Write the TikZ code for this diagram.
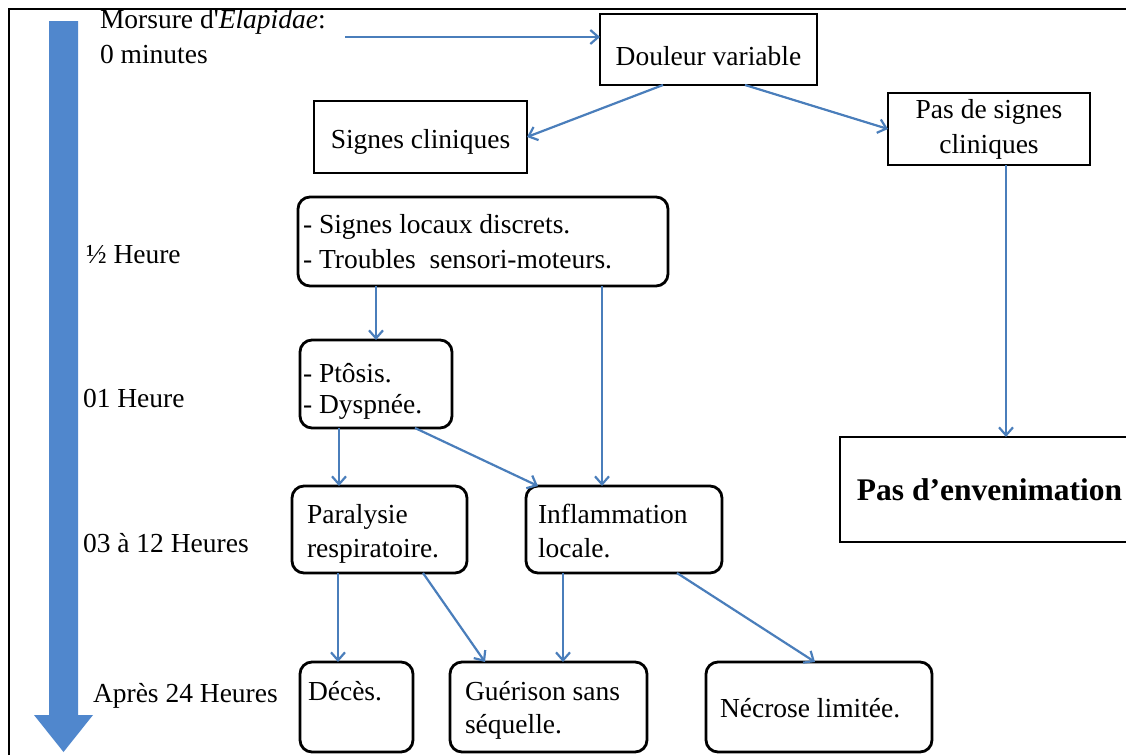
\documentclass[tikz,border=0pt]{standalone}
\usepackage{fontspec}
\setmainfont{Liberation Serif}
\usetikzlibrary{arrows.meta,calc}
\definecolor{conncol}{RGB}{74,126,187}
\definecolor{bigblue}{RGB}{80,135,205}
\begin{document}
\begin{tikzpicture}[x=1pt,y=-1pt,
  font=\fontsize{27.5}{35}\selectfont,
  sqbox/.style={draw=black, line width=2.8pt, inner sep=0pt, outer sep=0pt, align=center},
  rbox/.style={sqbox, rounded corners=12pt},
  txt/.style={anchor=base west, inner sep=0pt, outer sep=0pt},
  conn/.style={draw=conncol, line width=2.2pt, -{Straight Barb[length=8pt,width=14pt]}}
]
\useasboundingbox (0,0) rectangle (1126,755);
\fill[white] (0,0) rectangle (1126,755);

% frame
\draw[line width=2pt] (9,755) -- (9,9) -- (1126,9);

% time arrow
\fill[bigblue] (49,21) -- (78,21) -- (78,715) -- (93,715) -- (63.5,752) -- (34,715) -- (49,715) -- cycle;

% time labels
\node[txt] (morsure) at (100,28) {Morsure d\textquotesingle\textit{Elapidae}:};
\node[txt] (zero) at (100,63) {0 minutes};
\node[txt] (half) at (86,263) {½ Heure};
\node[txt] (one) at (83,407) {01 Heure};
\node[txt] (three) at (83,552) {03 à 12 Heures};
\node[txt] (after) at (93,702) {Après 24 Heures};

% boxes
\node[sqbox, minimum width=217pt, minimum height=71pt, text height=31pt, text depth=0pt] (douleur) at (708.5,49.5) {Douleur variable};
\node[sqbox, minimum width=213pt, minimum height=72pt, text height=22pt, text depth=0pt] (signes) at (420.5,137) {Signes cliniques};
\node[sqbox, minimum width=202pt, minimum height=72pt] (pas) at (989,129) {Pas de signes\\cliniques};
\node[sqbox, minimum width=299pt, minimum height=105pt, font=\fontsize{31.5}{36}\selectfont\bfseries] (envenim) at (989.5,489.5) {Pas d’envenimation};

\node[rbox, minimum width=370pt, minimum height=89pt] (locaux) at (483,241.5) {};
\node[rbox, minimum width=152pt, minimum height=88pt] (ptosis) at (376,384) {};
\node[rbox, minimum width=175pt, minimum height=87pt] (paralysie) at (379.5,529.5) {};
\node[rbox, minimum width=196pt, minimum height=87pt] (inflam) at (624,529.5) {};
\node[rbox, minimum width=113pt, minimum height=90pt] (deces) at (356.5,707) {};
\node[rbox, minimum width=197pt, minimum height=90pt] (guerison) at (548.5,707) {};
\node[rbox, minimum width=226pt, minimum height=90pt] (necrose) at (819,707) {};

% box texts
\node[txt] (locauxA) at (303,233) {- Signes locaux discrets.};
\node[txt] (locauxB) at (303,268) {- Troubles~ sensori-moteurs.};
\node[txt] (ptosisA) at (303,382) {- Ptôsis.};
\node[txt] (ptosisB) at (303,413) {- Dyspnée.};
\node[txt] (paralysieA) at (307,523) {Paralysie};
\node[txt] (paralysieB) at (307,557) {respiratoire.};
\node[txt] (inflamA) at (538,523) {Inflammation};
\node[txt] (inflamB) at (538,557) {locale.};
\node[txt] (decesA) at (308,700) {Décès.};
\node[txt] (guerisonA) at (465,700) {Guérison sans};
\node[txt] (guerisonB) at (465,733) {séquelle.};
\node[txt] (necroseA) at (720,717) {Nécrose limitée.};

% connectors
\coordinate (mstart) at (345,37);
\draw[conn] (mstart) -- (mstart -| douleur.west);
\draw[conn] ([xshift=-45.5pt]douleur.south) -- (signes.east);
\draw[conn] ([xshift=36.5pt]douleur.south) -- (pas.west);
\draw[conn] ([xshift=17pt]pas.south) -- ([xshift=17pt]pas.south |- envenim.north);
\draw[conn] ([xshift=-107pt]locaux.south) -- ([xshift=-107pt]locaux.south |- ptosis.north);
\draw[conn] ([xshift=119pt]locaux.south) -- ([xshift=119pt]locaux.south |- inflam.north);
\draw[conn] ([xshift=-37pt]ptosis.south) -- ([xshift=-37pt]ptosis.south |- paralysie.north);
\draw[conn] ([xshift=39pt]ptosis.south) -- ([xshift=-86pt]inflam.north);
\draw[conn] ([xshift=-41.5pt]paralysie.south) -- ([xshift=-41.5pt]paralysie.south |- deces.north);
\draw[conn] ([xshift=43.5pt]paralysie.south) -- ([xshift=-63.5pt]guerison.north);
\draw[conn] ([xshift=-61pt]inflam.south) -- ([xshift=-61pt]inflam.south |- guerison.north);
\draw[conn] ([xshift=53pt]inflam.south) -- ([xshift=-4pt]necrose.north);
\end{tikzpicture}
\end{document}
